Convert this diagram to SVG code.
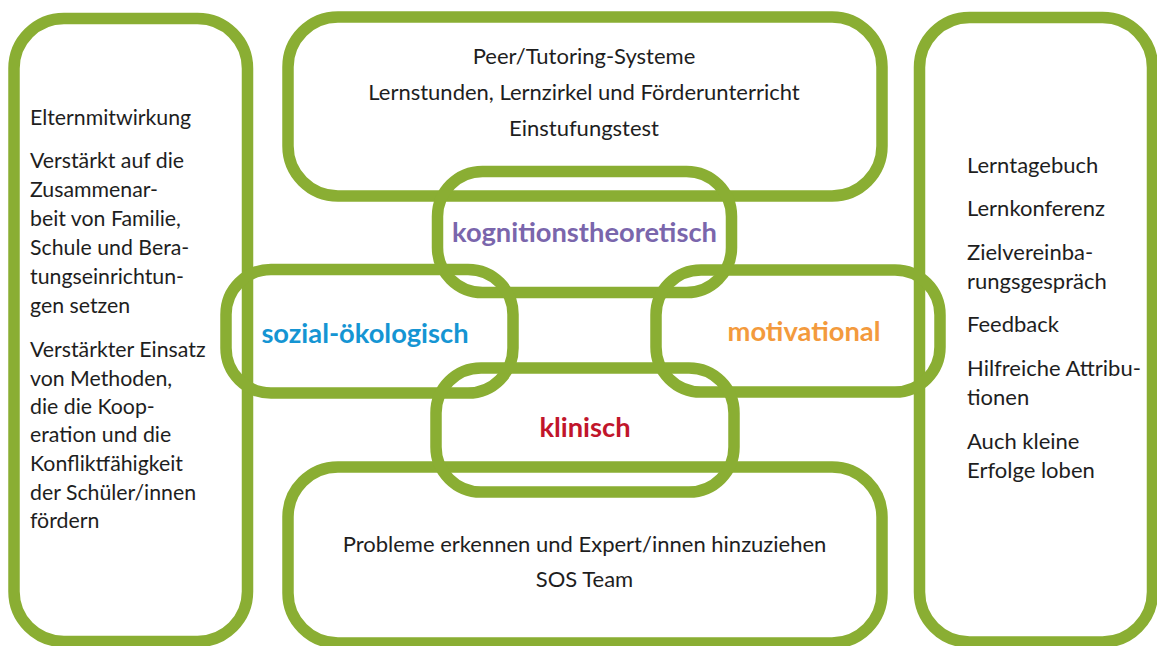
<svg xmlns="http://www.w3.org/2000/svg" width="1157" height="646" viewBox="0 0 1157 646">
<style>
.frame{fill:none;stroke:#8AAE33;stroke-width:11.5}
.t{font-family:Lato,"Open Sans","Liberation Sans",sans-serif;font-size:22px;fill:#1e1e1e}
.l{font-size:21.3px}
.c{text-anchor:middle}
.lab{font-family:Lato,"Open Sans","Liberation Sans",sans-serif;font-size:27.3px;font-weight:bold;text-anchor:middle}
</style>
<rect width="1157" height="646" fill="#ffffff"/>
<g id="connectors"/>
<g id="left-box">
<rect class="frame" x="14" y="18.5" width="233.5" height="623" rx="50"/>
<text class="t l" x="30" y="125">Elternmitwirkung</text>
<text class="t l" x="30" y="168">Verstärkt auf die</text>
<text class="t l" x="30" y="197">Zusammenar-</text>
<text class="t l" x="30" y="226">beit von Familie,</text>
<text class="t l" x="30" y="255">Schule und Bera-</text>
<text class="t l" x="30" y="284">tungseinrichtun-</text>
<text class="t l" x="30" y="313">gen setzen</text>
<text class="t l" x="30" y="357">Verstärkter Einsatz</text>
<text class="t l" x="30" y="386">von Methoden,</text>
<text class="t l" x="30" y="414">die die Koop-</text>
<text class="t l" x="30" y="442">eration und die</text>
<text class="t l" x="30" y="471">Konfliktfähigkeit</text>
<text class="t l" x="30" y="500">der Schüler/innen</text>
<text class="t l" x="30" y="528">fördern</text>
</g>
<g id="top-box">
<rect class="frame" x="288" y="17" width="594" height="179" rx="50"/>
<text class="t c" x="584" y="64">Peer/Tutoring-Systeme</text>
<text class="t c" x="584" y="100">Lernstunden, Lernzirkel und Förderunterricht</text>
<text class="t c" x="584" y="136">Einstufungstest</text>
</g>
<g id="right-box">
<rect class="frame" x="919.5" y="17.5" width="233" height="624.5" rx="50"/>
<text class="t" x="967" y="173">Lerntagebuch</text>
<text class="t" x="967" y="216">Lernkonferenz</text>
<text class="t" x="967" y="260">Zielvereinba-</text>
<text class="t" x="967" y="289">rungsgespräch</text>
<text class="t" x="967" y="332">Feedback</text>
<text class="t" x="967" y="376">Hilfreiche Attribu-</text>
<text class="t" x="967" y="405">tionen</text>
<text class="t" x="967" y="449">Auch kleine</text>
<text class="t" x="967" y="478">Erfolge loben</text>
</g>
<g id="bottom-box">
<rect class="frame" x="288" y="467" width="594" height="176" rx="50"/>
<text class="t c" x="584.5" y="552">Probleme erkennen und Expert/innen hinzuziehen</text>
<text class="t c" x="584.5" y="587">SOS Team</text>
</g>
<g id="kognitionstheoretisch">
<rect class="frame" x="437.5" y="171.5" width="294" height="121" rx="45"/>
<text class="lab" x="584.5" y="242" fill="#7A66AC">kognitionstheoretisch</text>
</g>
<g id="sozial-oekologisch">
<rect class="frame" x="226" y="269.5" width="287" height="123.5" rx="45"/>
<text class="lab" x="365" y="343" fill="#1595D3">sozial-ökologisch</text>
</g>
<g id="motivational">
<rect class="frame" x="656" y="270" width="284" height="122" rx="45"/>
<text class="lab" x="804" y="341" fill="#F39A3D">motivational</text>
</g>
<g id="klinisch">
<rect class="frame" x="436" y="368" width="298" height="124" rx="45"/>
<text class="lab" x="585" y="437" fill="#C1152B">klinisch</text>
</g>
</svg>
